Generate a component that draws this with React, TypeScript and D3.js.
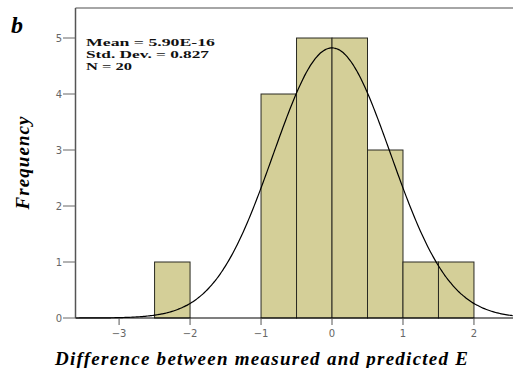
import React, { useEffect, useRef } from "react";
import * as d3 from "d3";

// histogram bins (lower edge) and counts
const binStarts = [-2.5, -1.0, -0.5, 0.0, 0.5, 1.0, 1.5];
const binCounts = [1, 4, 5, 5, 3, 1, 1];
const binWidth = 0.5;
const xTicks = [-3, -2, -1, 0, 1, 2];
const yTicks = [0, 1, 2, 3, 4, 5];
const statLines = ["Mean = 5.90E-16", "Std. Dev. = 0.827", "N = 20"];
const statWidths = [129, 123, 46];
const mean = 0;
const sd = 0.827;
const n = 20;

const serif = "'Liberation Serif', 'Times New Roman', serif";

export default function App() {
  const ref = useRef<SVGSVGElement>(null);

  useEffect(() => {
    if (!ref.current) return;
    const svg = d3.select(ref.current);
    svg.selectAll("*").remove();

    const left = 75.5;
    const right = 513;
    const top = 8;
    const bottom = 318;

    const x = d3.scaleLinear().domain([-3.614, 2.55]).range([left, right]);
    const y = d3.scaleLinear().domain([0, 5.536]).range([bottom, top]);

    // bars
    svg
      .append("g")
      .selectAll("rect")
      .data(binStarts.map((s, i) => ({ s, c: binCounts[i] })))
      .enter()
      .append("rect")
      .attr("x", (d) => x(d.s))
      .attr("y", (d) => y(d.c))
      .attr("width", (d) => x(d.s + binWidth) - x(d.s))
      .attr("height", (d) => y(0) - y(d.c))
      .attr("fill", "#d4cf98")
      .attr("stroke", "#2a2a22")
      .attr("stroke-width", 1);

    // normal curve
    const scale = n * binWidth;
    const pts = d3.range(-3.614, 2.56, 0.02).map((v) => [
      v,
      (scale / (sd * Math.sqrt(2 * Math.PI))) * Math.exp(-((v - mean) ** 2) / (2 * sd * sd)),
    ]);
    svg
      .append("path")
      .datum(pts)
      .attr(
        "d",
        d3
          .line<number[]>()
          .x((d) => x(d[0]))
          .y((d) => y(d[1]))
          .curve(d3.curveBasis)
      )
      .attr("fill", "none")
      .attr("stroke", "#000")
      .attr("stroke-width", 1.2);

    // frame
    svg.append("line").attr("x1", left).attr("x2", right).attr("y1", top).attr("y2", top).attr("stroke", "#888").attr("stroke-width", 1.5);
    svg.append("line").attr("x1", left).attr("x2", left).attr("y1", top).attr("y2", bottom).attr("stroke", "#555").attr("stroke-width", 1.5);
    svg.append("line").attr("x1", left).attr("x2", right).attr("y1", bottom).attr("y2", bottom).attr("stroke", "#000").attr("stroke-width", 1.2);

    // y ticks
    const yg = svg.append("g");
    yTicks.forEach((t) => {
      yg.append("line").attr("x1", 63).attr("x2", left).attr("y1", y(t)).attr("y2", y(t)).attr("stroke", "#666").attr("stroke-width", 1);
      yg.append("text")
        .attr("x", 62)
        .attr("y", y(t))
        .attr("dy", "0.35em")
        .attr("text-anchor", "end")
        .attr("font-family", "'DejaVu Sans', sans-serif")
        .attr("font-size", 10)
        .attr("fill", "#666")
        .text(String(t));
    });

    // x ticks
    const xg = svg.append("g");
    xTicks.forEach((t) => {
      xg.append("line").attr("x1", x(t)).attr("x2", x(t)).attr("y1", bottom).attr("y2", bottom + 7).attr("stroke", "#555").attr("stroke-width", 1);
      xg.append("text")
        .attr("x", x(t))
        .attr("y", 333)
        .attr("dy", "0.35em")
        .attr("text-anchor", "middle")
        .attr("font-family", "'DejaVu Sans', sans-serif")
        .attr("font-size", 10)
        .attr("fill", "#666")
        .text(t < 0 ? "\u2212" + Math.abs(t) : String(t));
    });

    // stats box text
    statLines.forEach((s, i) => {
      svg
        .append("text")
        .attr("x", 86)
        .attr("y", 45.5 + i * 12.3)
        .attr("font-family", serif)
        .attr("font-weight", "bold")
        .attr("font-size", 11)
        .attr("textLength", statWidths[i])
        .attr("lengthAdjust", "spacingAndGlyphs")
        .attr("fill", "#111")
        .text(s);
    });

    // panel letter
    svg
      .append("text")
      .attr("x", 11)
      .attr("y", 33)
      .attr("font-family", serif)
      .attr("font-weight", "bold")
      .attr("font-style", "italic")
      .attr("font-size", 24)
      .text("b");

    // axis titles
    svg
      .append("text")
      .attr("transform", "translate(29,163) rotate(-90)")
      .attr("text-anchor", "middle")
      .attr("font-family", serif)
      .attr("font-weight", "bold")
      .attr("font-style", "italic")
      .attr("font-size", 19)
      .attr("textLength", 93)
      .attr("lengthAdjust", "spacing")
      .text("Frequency");

    svg
      .append("text")
      .attr("x", 55)
      .attr("y", 365)
      .attr("font-family", serif)
      .attr("font-weight", "bold")
      .attr("font-style", "italic")
      .attr("font-size", 19)
      .attr("textLength", 413)
      .attr("lengthAdjust", "spacing")
      .text("Difference between measured and predicted E");
  }, []);

  return (
    <svg
      ref={ref}
      width={513}
      height={368}
      style={{ position: "absolute", left: 0, top: 0, background: "#fff" }}
    />
  );
}
